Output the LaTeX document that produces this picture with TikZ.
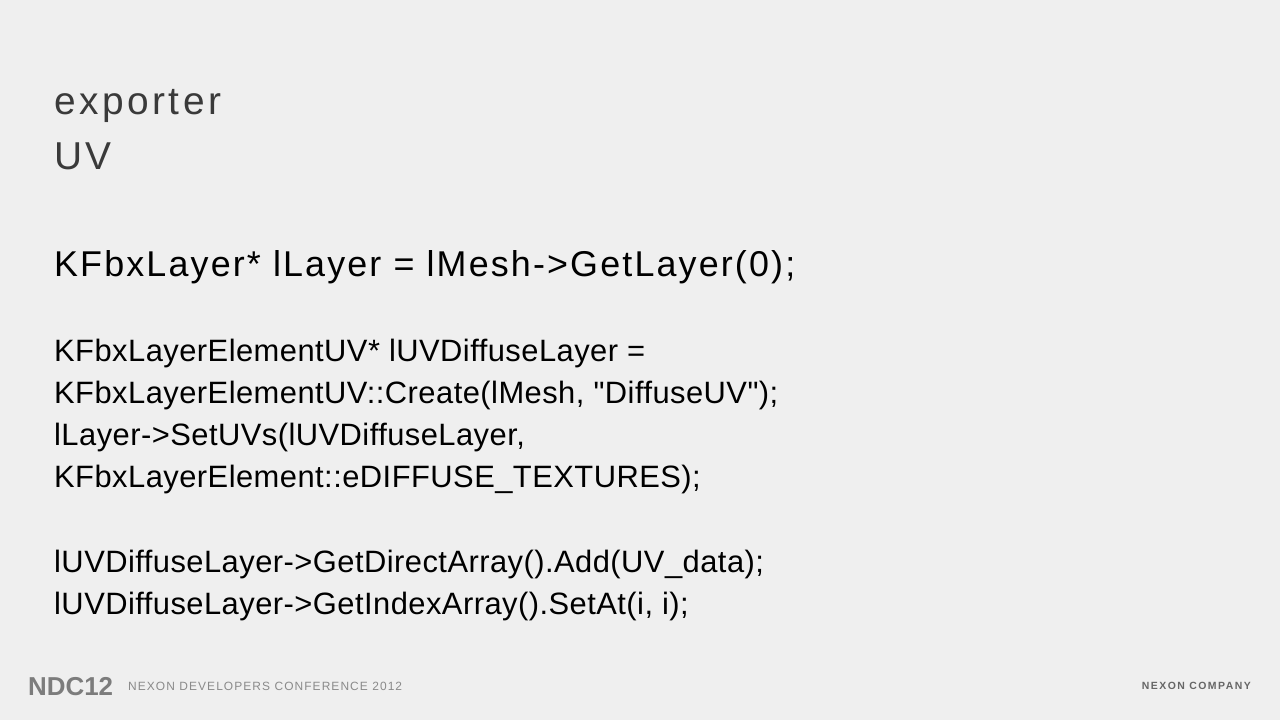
\documentclass[tikz,border=0pt]{standalone}
\usepackage{fontspec}
\setmainfont{Liberation Sans}
\newfontfamily\codefont[LetterSpace=1.5]{Liberation Sans}
\newfontfamily\headfont[LetterSpace=6]{Liberation Sans}
\newfontfamily\titlefont[LetterSpace=9]{Liberation Sans}
\newfontfamily\footfont[LetterSpace=9]{Liberation Sans}
\newfontfamily\compfont[LetterSpace=14]{Liberation Sans}
\definecolor{slidebg}{HTML}{EFEFEF}
\definecolor{titlegray}{HTML}{3A3A3A}
\definecolor{footgray}{HTML}{8A8A8A}
\tikzset{
  line/.style={anchor=base west, inner sep=0pt, font=\codefont\fontsize{31}{31}\selectfont},
  title/.style={anchor=base west, inner sep=0pt, text=titlegray, font=\titlefont\fontsize{39}{39}\selectfont},
  foot/.style={anchor=base west, inner sep=0pt, text=footgray, font=\footfont\fontsize{12}{12}\selectfont}
}
\begin{document}
\begin{tikzpicture}[x=1bp,y=1bp]
	\fill[slidebg] (0,0) rectangle (1280,720);
	\useasboundingbox (0,0) rectangle (1280,720);

	\node[title] (t1) at (54,605) {exporter};
	\node[title] (t2) at (54,550) {UV};

	\node[line, font=\headfont\fontsize{36}{36}\selectfont] (l1) at (54,443) {KFbxLayer* lLayer = lMesh->GetLayer(0);};
	\node[line] (l2) at (54,358) {KFbxLayerElementUV* lUVDiffuseLayer =};
	\node[line] (l3) at (54,316) {KFbxLayerElementUV::Create(lMesh, "DiffuseUV");};
	\node[line] (l4) at (54,274) {lLayer->SetUVs(lUVDiffuseLayer,};
	\node[line] (l5) at (54,232) {KFbxLayerElement::eDIFFUSE\_TEXTURES);};
	\node[line] (l6) at (54,147) {lUVDiffuseLayer->GetDirectArray().Add(UV\_data);};
	\node[line] (l7) at (54,105) {lUVDiffuseLayer->GetIndexArray().SetAt(i, i);};

	% footer
	\node[anchor=base west, inner sep=0pt, text=footgray!90!black, font=\fontsize{26}{26}\selectfont\bfseries] (logo) at (28,24) {NDC12};
	\node[foot] (conf) at (128,29) {NEXON DEVELOPERS CONFERENCE 2012};
	\node[foot, anchor=base east, text=gray!80!black, font=\compfont\fontsize{10.5}{10.5}\selectfont\bfseries] (comp) at (1251,30) {NEXON COMPANY};
\end{tikzpicture}
\end{document}
